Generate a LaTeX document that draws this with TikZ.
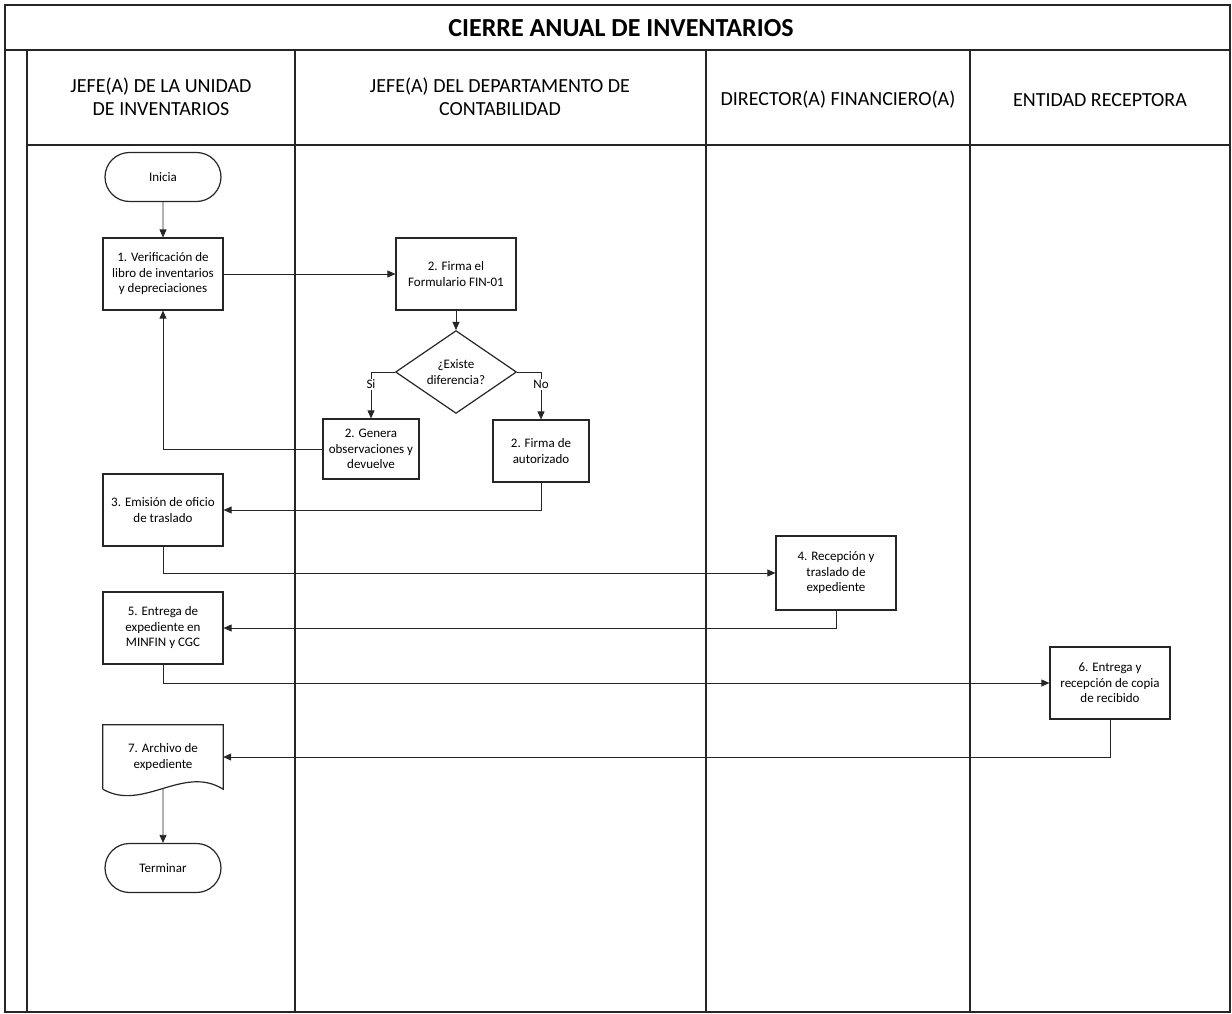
\documentclass[tikz,border=0pt]{standalone}
\usepackage{fontspec}
\setmainfont{Carlito}
\usepackage{tikz}
\usetikzlibrary{positioning,arrows.meta,calc,shapes.geometric,shapes.misc}
\newcommand{\fnodo}{\fontsize{13}{15.5}\selectfont}
\newcommand{\fcarril}{\fontsize{20}{23}\selectfont}

\begin{document}
\begin{tikzpicture}[x=1pt, y=-1pt,
        linea/.style={line width=1.1pt, draw=black!85},
        proceso/.style={draw=black!85, line width=1.2pt, align=center, font=\fnodo, minimum width=120pt, minimum height=72pt, inner sep=2pt, fill=white},
        terminal/.style={proceso, rounded rectangle, minimum height=49pt},
        decision/.style={proceso, diamond, minimum width=121pt, minimum height=77pt, inner sep=0pt},
        documento/.style={align=center, font=\fnodo, minimum width=120pt, minimum height=64pt, inner sep=0pt},
        carril/.style={font=\fcarril, align=center},
        flecha/.style={-{Triangle[length=8pt, width=7pt]}, line width=0.8pt, draw=black!85},
        etiqueta/.style={font=\fnodo, fill=white, inner sep=1pt}
    ]
        \useasboundingbox (0,0) rectangle (1232,1014);

        % --- MARCO Y CARRILES ---
        \draw[linea] (5,5) rectangle (1230,1012);
        \draw[linea] (5,50) -- (1230,50);
        \draw[linea] (27,145) -- (1230,145);
        \foreach \x in {27,295,706,970} {
            \draw[linea] (\x,50) -- (\x,1012);
        }
        \node[font=\fontsize{26}{30}\selectfont\bfseries] (titulo) at (621,28) {CIERRE ANUAL DE INVENTARIOS};

        % Encabezados
        \node[carril] (jefeinv) at (161,97) {JEFE(A) DE LA UNIDAD\\DE INVENTARIOS};
        \node[carril] (jefecont) at (500,97) {JEFE(A) DEL DEPARTAMENTO DE\\CONTABILIDAD};
        \node[carril] (director) at (838,100) {DIRECTOR(A) FINANCIERO(A)};
        \node[carril] (receptora) at (1100,100) {ENTIDAD RECEPTORA};

        % --- NODOS ---
        \node[terminal] (inicia) at (163,177) {Inicia};
        \node[proceso] (verif) at (163,274) {1. Verificación de\\libro de inventarios\\y depreciaciones};
        \node[proceso] (firma) at (456,274) {2. Firma el\\Formulario FIN-01};
        \node[decision] (dif) at (456,372) {¿Existe\\diferencia?};
        \node[proceso, minimum width=96pt, minimum height=60pt] (genera) at (371,449) {2. Genera\\observaciones y\\devuelve};
        \node[proceso, minimum width=96pt, minimum height=62pt] (autoriz) at (541,451) {2. Firma de\\autorizado};
        \node[proceso] (emision) at (163,510) {3. Emisión de oficio\\de traslado};
        \node[proceso, minimum height=74pt] (recep) at (836,573) {4. Recepción y\\traslado de\\expediente};
        \node[proceso] (entrega) at (163,628) {5. Entrega de\\expediente en\\MINFIN y CGC};
        \node[proceso] (copia) at (1110,683) {6. Entrega y\\recepción de copia\\de recibido};
        \node[documento] (archivo) at (163,757) {7. Archivo de\\expediente};
        \draw[draw=black!85, line width=1.2pt] (archivo.south west) -- (archivo.north west) -- (archivo.north east) -- (archivo.south east)
            .. controls ($(archivo.south east)+(-40,-25)$) and ($(archivo.south west)+(40,23)$) .. (archivo.south west);
        \node[terminal] (terminar) at (163,868) {Terminar};

        % --- CONEXIONES ---
        \draw[flecha] (inicia) -- (verif);
        \draw[flecha] (verif) -- (firma);
        \draw[flecha] (firma) -- (dif);
        \draw[flecha] (dif.west) -| node[etiqueta, pos=0.63] {Si} (genera.north);
        \draw[flecha] (dif.east) -| node[etiqueta, pos=0.63] {No} (autoriz.north);
        \draw[flecha] (genera.west) -| (verif.south);
        \draw[flecha] (autoriz.south) |- (emision.east);
        \draw[flecha] (emision.south) |- (recep.west);
        \draw[flecha] (recep.south) |- (entrega.east);
        \draw[flecha] (entrega.south) |- (copia.west);
        \draw[flecha] (copia.south) |- (archivo.east);
        \draw[flecha] (archivo.south) -- (terminar);
    \end{tikzpicture}
\end{document}
